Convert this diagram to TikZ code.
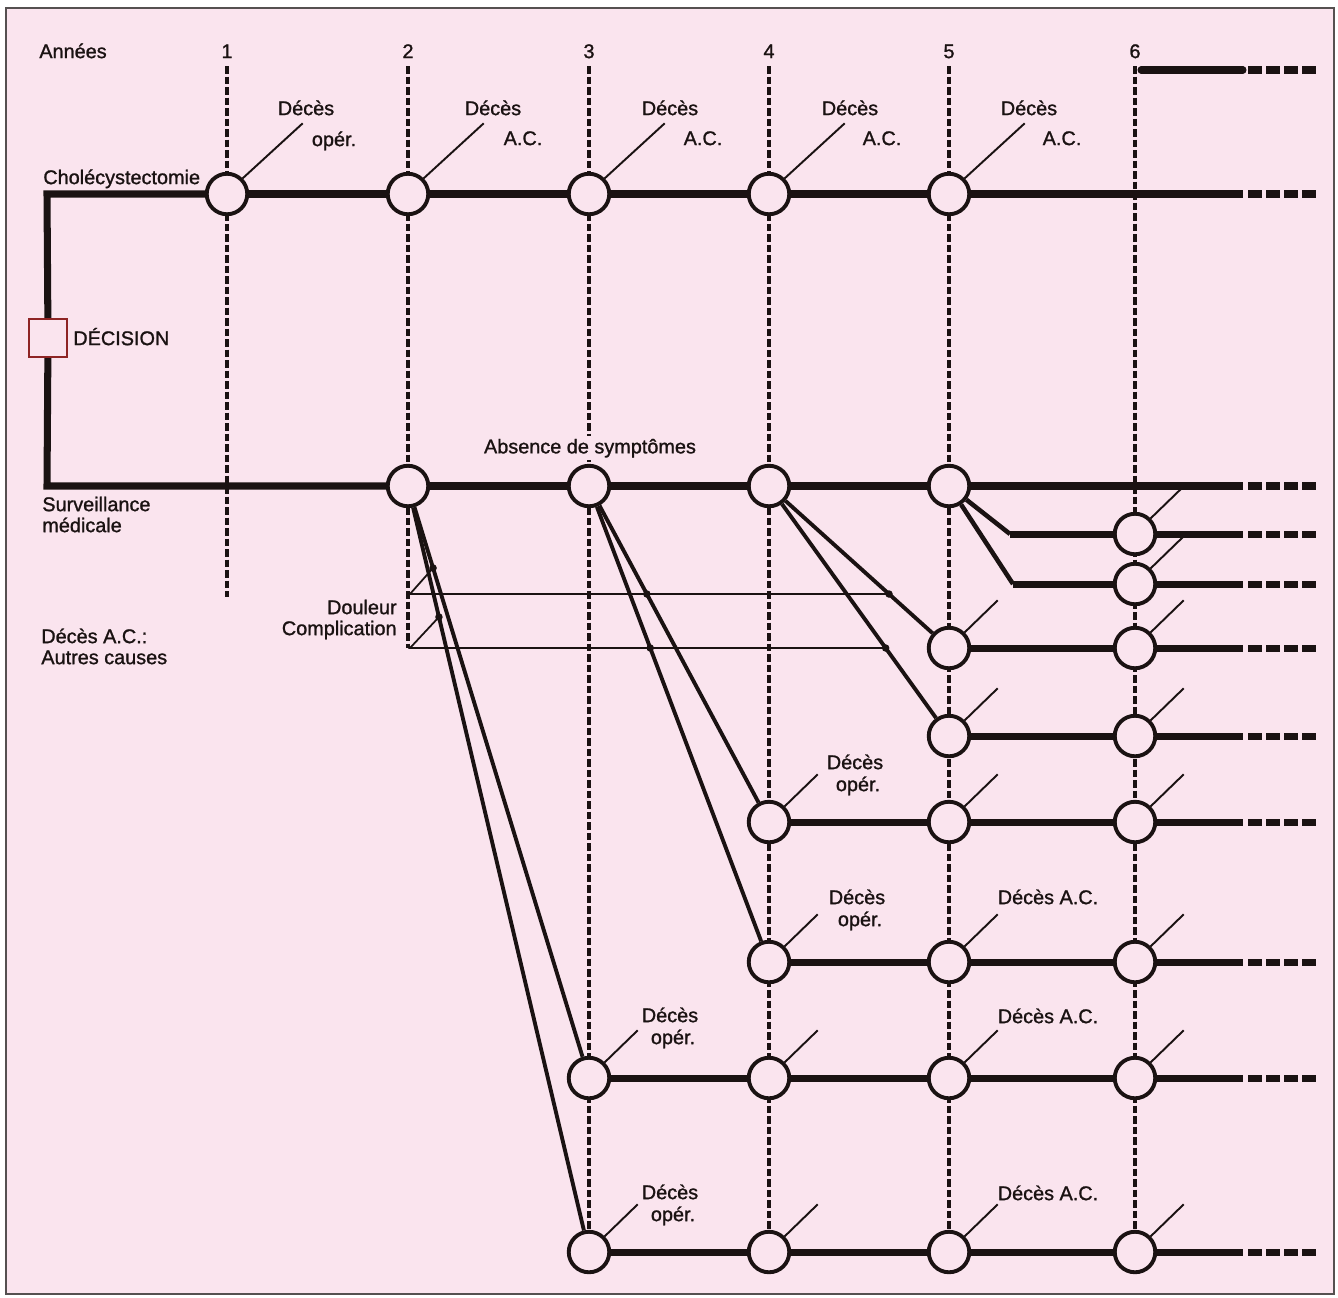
\documentclass[tikz,border=0pt]{standalone}
\usepackage{fontspec}
\setmainfont{Liberation Sans}[BoldFont=Liberation Sans, BoldFeatures={FakeBold=1.2}]
\usetikzlibrary{calc}
\definecolor{paper}{HTML}{FAE4EE}
\definecolor{ink}{HTML}{1A1212}
\definecolor{boxred}{HTML}{8E2424}
\definecolor{framegray}{HTML}{555050}

\begin{document}
\begin{tikzpicture}[
  x=0.2mm, y=-0.2mm,
  txt/.style={font=\fontsize{11.3}{12}\selectfont\bfseries, text=ink, inner sep=0pt, text height=8.1pt, text depth=0pt},
  evt/.style={circle, draw=ink, line width=2.2pt, fill=paper, minimum size=8.1mm, inner sep=0pt},
  decbox/.style={draw=boxred, line width=1.3pt, fill=paper, minimum size=7.6mm, inner sep=0pt},
  crossdot/.style={circle, fill=ink, minimum size=1.5mm, inner sep=0pt},
  main/.style={draw=ink, line width=4pt, line join=miter},
  tail/.style={draw=ink, line width=4pt, dash pattern=on 2.8mm off 0.8mm},
  diag/.style={draw=ink, line width=2.2pt},
  fine/.style={draw=ink, line width=1pt},
  lead/.style={draw=ink, line width=1.1pt},
  yearline/.style={draw=ink, line width=2.2pt, dash pattern=on 1.5mm off 0.6mm}
]
% paper and frame
\fill[white] (0,0) rectangle (1338,1297);
\fill[paper] (6,8) rectangle (1334,1294);
\draw[framegray, line width=1.1pt] (6,8) rectangle (1334,1294);
\useasboundingbox (0,0) rectangle (1338,1297);

% years
\node[txt, anchor=west] (annees) at (39,51) {Années};
\foreach \i/\x/\yb in {1/227/597, 2/408/648, 3/589/1252, 4/769/1252, 5/949/1252, 6/1135/1252}{
  \node[txt] (yr\i) at (\x,51) {\i};
  \coordinate (yt\i) at (\x,66);
  \coordinate (yb\i) at (\x,\yb);
  \draw[yearline] (yt\i) -- (yb\i);
}

% row ends
\foreach \r/\y in {ch/194, sv/486, a/534, b/584, c/648, d/736, e/822, f/962, g/1078, h/1252, top/70}{
  \coordinate (\r-e) at (1243,\y);
  \coordinate (\r-t) at (1248,\y);
  \coordinate (\r-z) at (1316,\y);
  \draw[tail] (\r-t) -- (\r-z);
}

% chance nodes
\foreach \n/\x/\y in {ch1/227/194, ch2/408/194, ch3/589/194, ch4/769/194, ch5/949/194,
  sv2/408/486, sv3/589/486, sv4/769/486, sv5/949/486,
  a6/1135/534, b6/1135/584, c5/949/648, c6/1135/648, d5/949/736, d6/1135/736,
  e4/769/822, e5/949/822, e6/1135/822, f4/769/962, f5/949/962, f6/1135/962,
  g3/589/1078, g4/769/1078, g5/949/1078, g6/1135/1078,
  h3/589/1252, h4/769/1252, h5/949/1252, h6/1135/1252}
  \node[evt] (\n) at (\x,\y) {};

% decision
\node[decbox] (dec) at (48,338) {};
\node[txt, anchor=west] (declab) at (73,338) {DÉCISION};
\coordinate (ch-s) at (47,194);
\coordinate (sv-s) at (47,486);
\draw[main] (ch1) -- (ch-s) -- (dec);
\draw[main] (dec) -- (sv-s) -- (sv2);

% horizontal branches
\coordinate (top-s) at (1141,70);
\draw[main, line cap=round] (top-s) -- (top-e);
\draw[main] (ch1) -- (ch2) -- (ch3) -- (ch4) -- (ch5) -- (ch-e);
\draw[main] (sv2) -- (sv3) -- (sv4) -- (sv5) -- (sv-e);
\coordinate (a-k) at (1010,534);
\coordinate (b-k) at (1013,584);
\draw[diag, line width=2.6pt] (sv5) -- (a-k);
\draw[diag, line width=2.6pt] (sv5) -- (b-k);
\draw[main] (a-k) -- (a6) -- (a-e);
\draw[main] (b-k) -- (b6) -- (b-e);
\draw[main] (c5) -- (c6) -- (c-e);
\draw[main] (d5) -- (d6) -- (d-e);
\draw[main] (e4) -- (e5) -- (e6) -- (e-e);
\draw[main] (f4) -- (f5) -- (f6) -- (f-e);
\draw[main] (g3) -- (g4) -- (g5) -- (g6) -- (g-e);
\draw[main] (h3) -- (h4) -- (h5) -- (h6) -- (h-e);

% symptom branches
\draw[diag] (sv2) -- (g3);
\draw[diag] (sv2) -- (h3);
\draw[diag] (sv3) -- (e4);
\draw[diag] (sv3) -- (f4);
\draw[diag] (sv4) -- (c5);
\draw[diag] (sv4) -- (d5);

% douleur / complication
\node[crossdot] (dl1) at ($(sv2)!0.1385!(g3)$) {};
\node[crossdot] (dl2) at ($(sv3)!0.3214!(e4)$) {};
\node[crossdot] (dl3) at ($(sv4)!0.6667!(c5)$) {};
\node[crossdot] (cp1) at ($(sv2)!0.171!(h3)$) {};
\node[crossdot] (cp2) at ($(sv3)!0.3403!(f4)$) {};
\node[crossdot] (cp3) at ($(sv4)!0.648!(d5)$) {};
\coordinate (dl-c) at (410,594);
\coordinate (cp-c) at (410,648);
\draw[fine] (dl1.center) -- (dl-c) -- (dl3.center);
\draw[fine] (cp1.center) -- (cp-c) -- (cp3.center);
\node[txt, anchor=east] (douleur) at (397,607) {Douleur};
\node[txt, anchor=east] (compl) at (397,628) {Complication};

% leaders
\foreach \n in {ch1,ch2,ch3,ch4,ch5}
  \draw[lead] (\n.45) -- ++(60,-55);
\foreach \n in {a6,b6,c5,c6,d5,d6,e4,e5,e6,f4,f5,f6,g3,g4,g5,g6,h3,h4,h5,h6}
  \draw[lead] (\n.45) -- ++(33,-32);

% outcome labels
\node[txt] (ch1-t1) at (306,108) {Décès};
\node[txt] (ch1-t2) at (334,139) {opér.};
\foreach \n/\x/\w in {ch2/493/523, ch3/670/703, ch4/850/882, ch5/1029/1062}{
  \node[txt] (\n-t1) at (\x,108) {Décès};
  \node[txt] (\n-t2) at (\w,138) {A.C.};
}
\foreach \n/\x/\y in {e4/855/762, f4/857/897, g3/670/1015, h3/670/1192}{
  \node[txt] (\n-t1) at (\x,\y) {Décès};
  \node[txt] (\n-t2) at ($(\x,\y)+(3,22)$) {opér.};
}
\foreach \n/\y in {f5/897, g5/1016, h5/1193}
  \node[txt] (\n-t1) at (1048,\y) {Décès A.C.};

% side texts
\node[txt, anchor=west] (chol) at (43,177) {Cholécystectomie};
\node[txt, anchor=west] (surv1) at (42,504) {Surveillance};
\node[txt, anchor=west] (surv2) at (42,525) {médicale};
\node[txt, anchor=west] (ac1) at (41,636) {Décès A.C.:};
\node[txt, anchor=west] (ac2) at (41,657) {Autres causes};
\node[txt, fill=paper, inner sep=2pt, text depth=2pt] (absence) at (590,448) {Absence de symptômes};

\end{tikzpicture}
\end{document}
